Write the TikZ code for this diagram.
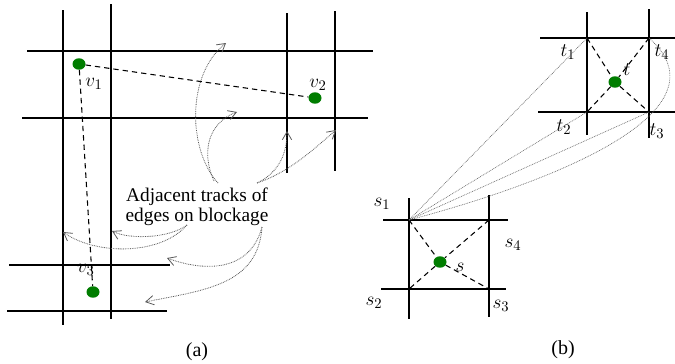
\documentclass[tikz,border=0pt]{standalone}
\usepackage{fontspec}
\setmainfont{Liberation Serif}
\usetikzlibrary{arrows.meta,shapes.geometric}
\definecolor{dotgreen}{RGB}{0,125,0}

\begin{document}
\begin{tikzpicture}[x=0.75pt, y=-0.75pt,
    track/.style={line width=2pt},
    dot/.style={ellipse, fill=dotgreen, minimum width=9.75pt, minimum height=8.6pt, inner sep=0pt},
    link/.style={line width=0.8pt, dash pattern=on 4pt off 3pt},
    pointer/.style={-{Straight Barb[length=6pt,width=7pt]}, black!65, line width=0.6pt, dash pattern=on 0.6pt off 0.7pt},
    fan/.style={black!60, line width=0.5pt, dash pattern=on 0.6pt off 0.7pt},
    lbl/.style={font=\fontsize{15}{15}\selectfont, inner sep=0pt},
    note/.style={font=\fontsize{14.5}{15}\selectfont, inner sep=0pt, align=center}
]
\useasboundingbox (0,0) rectangle (675,364);

% (a) tracks
\draw[track] (63,10) -- (63,325);
\draw[track] (111,4) -- (111,319);
\draw[track] (287,13) -- (287,173);
\draw[track] (335,11) -- (335,171);
\draw[track] (27,51) -- (373,51);
\draw[track] (22,118) -- (368,118);
\draw[track] (9,265) -- (170,265);
\draw[track] (7,311) -- (167,311);

% (a) vertices
\node[dot] (v1) at (79,64) {};
\node[dot] (v2) at (315,98) {};
\node[dot] (v3) at (93,292) {};
\node[lbl] (v1l) at (94,84) {$v_1$};
\node[lbl] (v2l) at (318,85) {$v_2$};
\node[lbl] (v3l) at (86,270) {$v_3$};
\draw[link] (v1) -- (v2);
\draw[link] (v1) -- (v3);

% note and its arrows
\node[note] (note) at (197,207) {Adjacent tracks of\\edges on blockage};
\coordinate (a1) at (226,43);
\coordinate (a2) at (237,112);
\coordinate (a3) at (287,131);
\coordinate (a4) at (336,130);
\coordinate (a5) at (112,231);
\coordinate (a6) at (63,232);
\coordinate (a7) at (167,258);
\coordinate (a8) at (145,302);
\draw[pointer] (218,183) .. controls (188,150) and (186,75) .. (a1);
\draw[pointer] (214,181) .. controls (200,150) and (210,122) .. (a2);
\draw[pointer] (257,183) .. controls (280,172) and (287,152) .. (a3);
\draw[pointer] (257,183) .. controls (290,172) and (315,148) .. (a4);
\draw[pointer] (187,225) .. controls (170,238) and (130,240) .. (a5);
\draw[pointer] (187,225) .. controls (160,256) and (95,255) .. (a6);
\draw[pointer] (262,227) .. controls (250,272) and (205,272) .. (a7);
\draw[pointer] (262,227) .. controls (258,285) and (205,290) .. (a8);

% (b) target cell
\draw[track] (587,12) -- (587,135);
\draw[track] (649,9) -- (649,138);
\draw[track] (540,38) -- (675,38);
\draw[track] (538,112) -- (675,112);
\coordinate (t1) at (587,38);
\coordinate (t4) at (649,38);
\coordinate (t2) at (587,112);
\coordinate (t3) at (649,112);
\node[dot] (t) at (615,82) {};
\draw[link] (t1) -- (t) -- (t3);
\draw[link] (t4) -- (t) -- (t2);
\node[lbl] (t1l) at (568,52) {$t_1$};
\node[lbl] (t4l) at (662,52) {$t_4$};
\node[lbl] (t2l) at (564,127) {$t_2$};
\node[lbl] (t3l) at (657,131) {$t_3$};
\node[lbl] (tl) at (627,70) {$t$};

% (b) source cell
\draw[track] (409,198) -- (409,319);
\draw[track] (489,195) -- (489,317);
\draw[track] (383,220) -- (508,220);
\draw[track] (381,289) -- (506,289);
\coordinate (s1) at (409,220);
\coordinate (s4) at (489,220);
\coordinate (s2) at (409,289);
\coordinate (s3) at (489,289);
\node[dot] (s) at (440,262) {};
\draw[link] (s1) -- (s) -- (s3);
\draw[link] (s4) -- (s) -- (s2);
\node[lbl] (s1l) at (382,204) {$s_1$};
\node[lbl] (s4l) at (513,245) {$s_4$};
\node[lbl] (sl) at (460,267) {$s$};
\node[lbl] (s2l) at (374,303) {$s_2$};
\node[lbl] (s3l) at (501,306) {$s_3$};

% fan from s1
\draw[fan] (s1) -- (t1);
\draw[fan] (s1) -- (t2);
\draw[fan] (s1) -- (t3);
\draw[fan] (s1) .. controls (560,180) and (730,110) .. (t4);

% captions
\node[lbl] (capa) at (197,352) {(a)};
\node[lbl] (capb) at (563,350) {(b)};
\end{tikzpicture}
\end{document}
